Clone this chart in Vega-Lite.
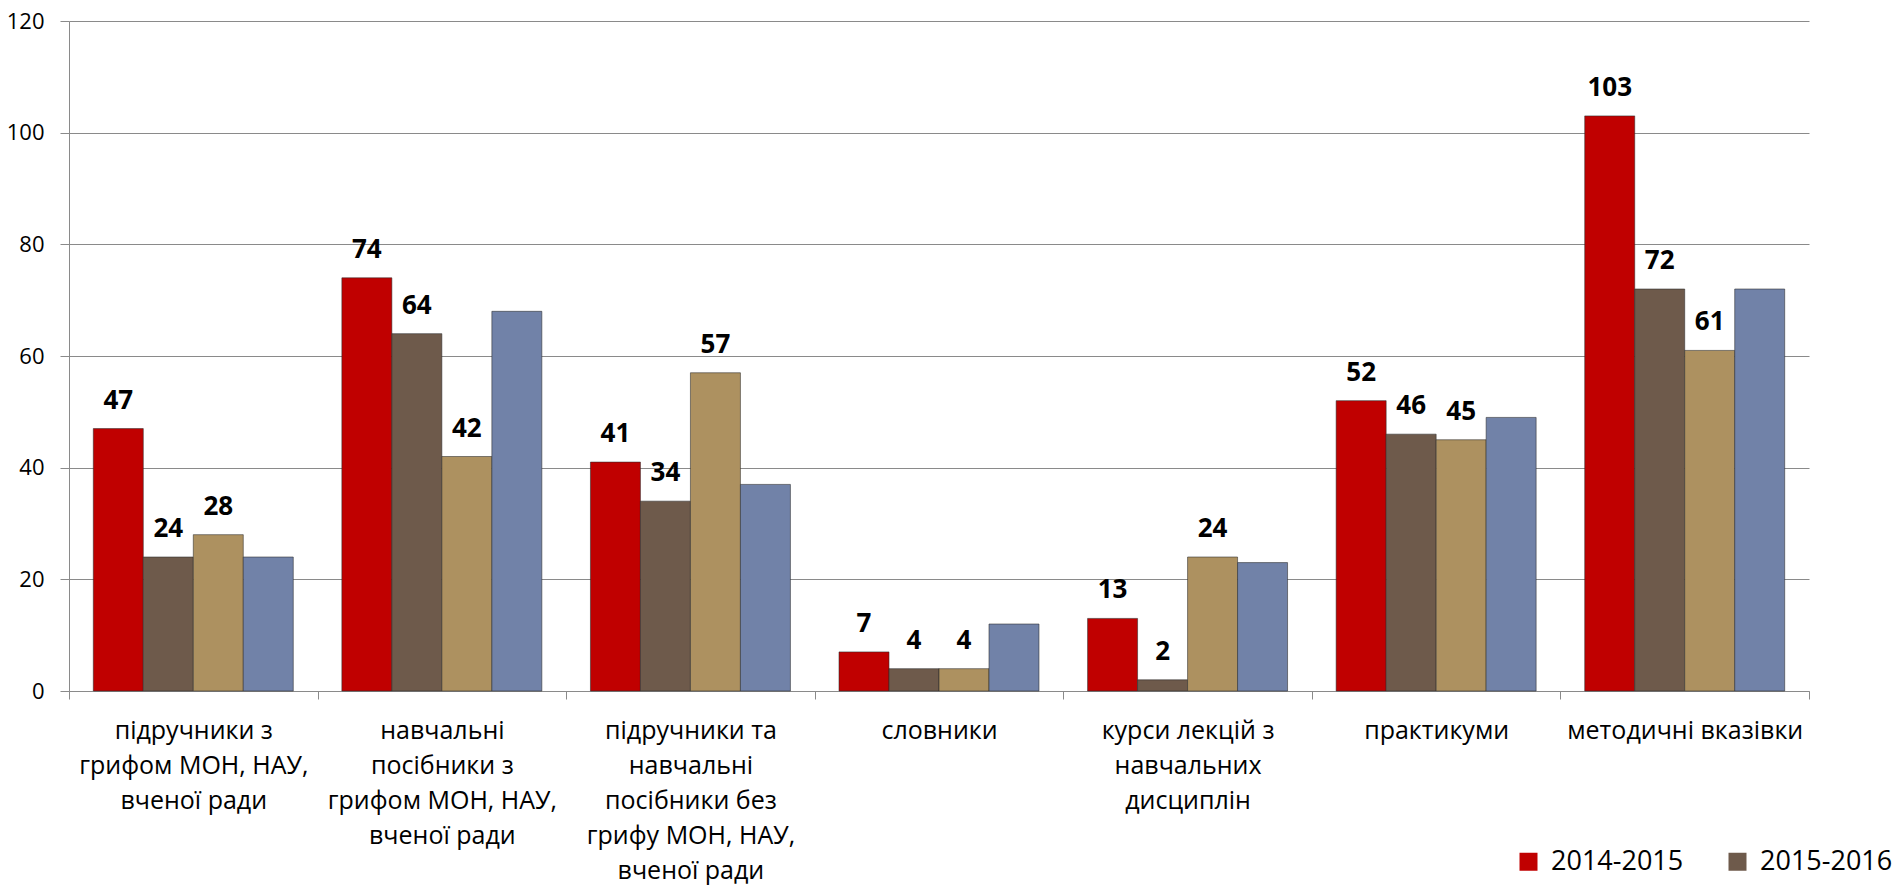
{
  "$schema": "https://vega.github.io/schema/vega-lite/v6.json",
  "width": 1740,
  "height": 670,
  "autosize": "none",
  "padding": {"left": 69, "top": 21, "right": 86, "bottom": 194},
  "background": "white",
  "config": {"view": {"stroke": null}, "font": "Open Sans"},
  "data": {
    "values": [
      {"category": "підручники з|грифом МОН, НАУ,|вченої ради", "series": "2014-2015", "value": 47},
      {"category": "підручники з|грифом МОН, НАУ,|вченої ради", "series": "2015-2016", "value": 24},
      {"category": "підручники з|грифом МОН, НАУ,|вченої ради", "series": "2016-2017", "value": 28},
      {"category": "підручники з|грифом МОН, НАУ,|вченої ради", "series": "2017-2018", "value": 24},
      {"category": "навчальні|посібники  з|грифом МОН, НАУ,|вченої ради", "series": "2014-2015", "value": 74},
      {"category": "навчальні|посібники  з|грифом МОН, НАУ,|вченої ради", "series": "2015-2016", "value": 64},
      {"category": "навчальні|посібники  з|грифом МОН, НАУ,|вченої ради", "series": "2016-2017", "value": 42},
      {"category": "навчальні|посібники  з|грифом МОН, НАУ,|вченої ради", "series": "2017-2018", "value": 68},
      {"category": "підручники та|навчальні|посібники  без|грифу МОН, НАУ,|вченої ради", "series": "2014-2015", "value": 41},
      {"category": "підручники та|навчальні|посібники  без|грифу МОН, НАУ,|вченої ради", "series": "2015-2016", "value": 34},
      {"category": "підручники та|навчальні|посібники  без|грифу МОН, НАУ,|вченої ради", "series": "2016-2017", "value": 57},
      {"category": "підручники та|навчальні|посібники  без|грифу МОН, НАУ,|вченої ради", "series": "2017-2018", "value": 37},
      {"category": "словники", "series": "2014-2015", "value": 7},
      {"category": "словники", "series": "2015-2016", "value": 4},
      {"category": "словники", "series": "2016-2017", "value": 4},
      {"category": "словники", "series": "2017-2018", "value": 12},
      {"category": "курси лекцій з|навчальних|дисциплін", "series": "2014-2015", "value": 13},
      {"category": "курси лекцій з|навчальних|дисциплін", "series": "2015-2016", "value": 2},
      {"category": "курси лекцій з|навчальних|дисциплін", "series": "2016-2017", "value": 24},
      {"category": "курси лекцій з|навчальних|дисциплін", "series": "2017-2018", "value": 23},
      {"category": "практикуми", "series": "2014-2015", "value": 52},
      {"category": "практикуми", "series": "2015-2016", "value": 46},
      {"category": "практикуми", "series": "2016-2017", "value": 45},
      {"category": "практикуми", "series": "2017-2018", "value": 49},
      {"category": "методичні вказівки", "series": "2014-2015", "value": 103},
      {"category": "методичні вказівки", "series": "2015-2016", "value": 72},
      {"category": "методичні вказівки", "series": "2016-2017", "value": 61},
      {"category": "методичні вказівки", "series": "2017-2018", "value": 72}
    ]
  },
  "encoding": {
    "x": {
      "field": "category",
      "type": "nominal",
      "sort": null,
      "scale": {"paddingInner": 0, "paddingOuter": 0},
      "axis": {
        "title": null,
        "labelAngle": 0,
        "tickBand": "extent",
        "tickSize": 8,
        "domainColor": "#8a8a8a",
        "tickColor": "#8a8a8a",
        "labelExpr": "split(datum.label, '|')",
        "labelFontSize": 25,
        "labelLineHeight": 35,
        "labelPadding": 19,
        "labelBaseline": "top",
        "labelColor": "#000000",
        "labelLimit": 0,
        "grid": false
      }
    },
    "xOffset": {
      "field": "series",
      "type": "nominal",
      "sort": ["2014-2015", "2015-2016", "2016-2017", "2017-2018"],
      "scale": {"paddingInner": 0, "paddingOuter": 0.486}
    },
    "y": {
      "field": "value",
      "type": "quantitative",
      "scale": {"domain": [0, 120]},
      "axis": {
        "title": null,
        "values": [0, 20, 40, 60, 80, 100, 120],
        "tickSize": 9,
        "labelPadding": 16,
        "labelFontSize": 22,
        "labelColor": "#000000",
        "gridColor": "#8a8a8a",
        "domainColor": "#8a8a8a",
        "tickColor": "#8a8a8a"
      }
    }
  },
  "layer": [
    {
      "mark": {"type": "bar", "stroke": "#2a2a2a", "strokeWidth": 1, "strokeOpacity": 0.55},
      "encoding": {
        "color": {
          "field": "series",
          "type": "nominal",
          "scale": {
            "domain": ["2014-2015", "2015-2016", "2016-2017", "2017-2018"],
            "range": ["#C00000", "#6E5A4B", "#AD9160", "#7182A8"]
          },
          "legend": {
            "values": ["2014-2015", "2015-2016"],
            "orient": "none",
            "legendX": 1446,
            "legendY": 827,
            "direction": "horizontal",
            "title": null,
            "symbolType": "square",
            "symbolSize": 324,
            "symbolStrokeWidth": 0,
            "labelFontSize": 27,
            "labelColor": "#000000",
            "labelOffset": 9,
            "columnPadding": 40
          }
        }
      }
    },
    {
      "transform": [{"filter": "datum.series != '2017-2018'"}],
      "mark": {"type": "text", "dy": -20, "baseline": "alphabetic", "fontWeight": "bold", "fontSize": 26, "color": "#000000"},
      "encoding": {"text": {"field": "value", "type": "quantitative"}}
    }
  ]
}
